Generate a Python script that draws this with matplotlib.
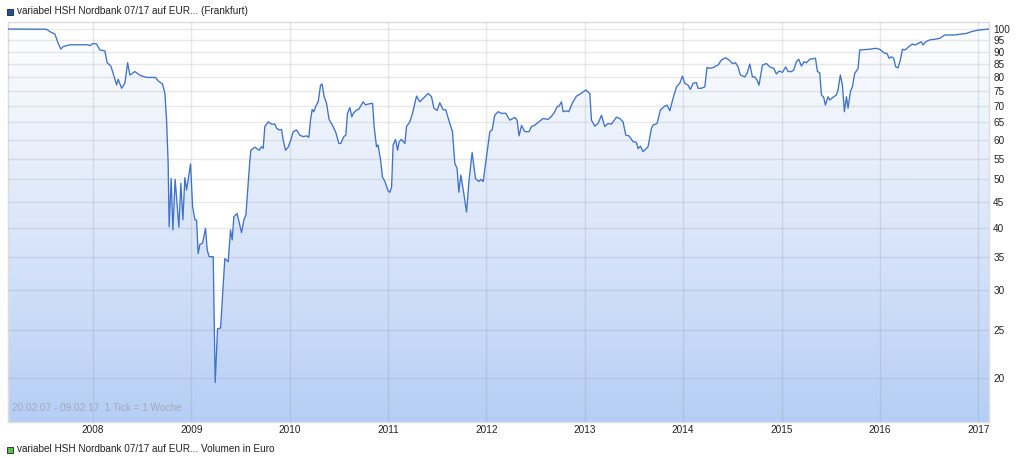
import numpy as np
import matplotlib
matplotlib.use("Agg")
import matplotlib.pyplot as plt
from matplotlib.patches import Rectangle
from matplotlib.colors import LinearSegmentedColormap

plt.rcParams['font.family'] = ['Liberation Sans', 'DejaVu Sans']

# weekly closing prices (decimal year, price in %)
years = [
    2007.137, 2007.529, 2007.563, 2007.614, 2007.647, 2007.675, 2007.698, 2007.766, 2007.952, 2007.970,
    2008.003, 2008.038, 2008.071, 2008.122, 2008.145, 2008.183, 2008.206, 2008.241, 2008.257, 2008.292,
    2008.325, 2008.353, 2008.376, 2008.427, 2008.478, 2008.546, 2008.637, 2008.664, 2008.708, 2008.732,
    2008.749, 2008.765, 2008.775, 2008.796, 2008.813, 2008.836, 2008.874, 2008.894, 2008.915, 2008.935,
    2008.952, 2008.993, 2009.013, 2009.037, 2009.054, 2009.070, 2009.087, 2009.115, 2009.145, 2009.162,
    2009.182, 2009.223, 2009.243, 2009.267, 2009.298, 2009.341, 2009.375, 2009.399, 2009.416, 2009.433,
    2009.466, 2009.511, 2009.535, 2009.555, 2009.578, 2009.596, 2009.606, 2009.646, 2009.690, 2009.714,
    2009.731, 2009.748, 2009.782, 2009.816, 2009.850, 2009.867, 2009.893, 2009.918, 2009.934, 2009.958,
    2009.985, 2010.012, 2010.036, 2010.070, 2010.104, 2010.137, 2010.172, 2010.195, 2010.212, 2010.229,
    2010.246, 2010.266, 2010.290, 2010.314, 2010.330, 2010.351, 2010.375, 2010.401, 2010.442, 2010.470,
    2010.500, 2010.520, 2010.551, 2010.571, 2010.588, 2010.612, 2010.632, 2010.652, 2010.680, 2010.703,
    2010.721, 2010.747, 2010.771, 2010.805, 2010.843, 2010.859, 2010.883, 2010.899, 2010.924, 2010.944,
    2010.967, 2011.001, 2011.018, 2011.036, 2011.052, 2011.076, 2011.097, 2011.113, 2011.137, 2011.171,
    2011.188, 2011.222, 2011.249, 2011.290, 2011.323, 2011.357, 2011.408, 2011.442, 2011.466, 2011.499,
    2011.526, 2011.560, 2011.587, 2011.628, 2011.655, 2011.679, 2011.702, 2011.720, 2011.740, 2011.770,
    2011.798, 2011.824, 2011.855, 2011.889, 2011.923, 2011.943, 2011.967, 2012.001, 2012.035, 2012.058,
    2012.085, 2012.119, 2012.153, 2012.197, 2012.238, 2012.289, 2012.312, 2012.332, 2012.357, 2012.390,
    2012.434, 2012.458, 2012.492, 2012.525, 2012.576, 2012.627, 2012.662, 2012.688, 2012.719, 2012.739,
    2012.763, 2012.780, 2012.814, 2012.837, 2012.875, 2012.916, 2012.949, 2013.010, 2013.051, 2013.068,
    2013.102, 2013.135, 2013.170, 2013.203, 2013.237, 2013.271, 2013.322, 2013.356, 2013.389, 2013.417,
    2013.450, 2013.491, 2013.525, 2013.542, 2013.566, 2013.592, 2013.643, 2013.678, 2013.694, 2013.735,
    2013.769, 2013.813, 2013.836, 2013.864, 2013.897, 2013.932, 2013.966, 2013.993, 2014.016, 2014.050,
    2014.074, 2014.101, 2014.135, 2014.151, 2014.186, 2014.220, 2014.243, 2014.270, 2014.311, 2014.328,
    2014.355, 2014.389, 2014.433, 2014.467, 2014.501, 2014.532, 2014.558, 2014.582, 2014.626, 2014.650,
    2014.677, 2014.704, 2014.728, 2014.751, 2014.771, 2014.806, 2014.846, 2014.880, 2014.921, 2014.948,
    2014.975, 2015.009, 2015.043, 2015.066, 2015.101, 2015.124, 2015.151, 2015.175, 2015.202, 2015.229,
    2015.253, 2015.287, 2015.345, 2015.365, 2015.388, 2015.406, 2015.429, 2015.446, 2015.473, 2015.490,
    2015.523, 2015.558, 2015.574, 2015.598, 2015.619, 2015.639, 2015.660, 2015.676, 2015.700, 2015.720,
    2015.744, 2015.778, 2015.795, 2015.896, 2015.957, 2015.998, 2016.049, 2016.072, 2016.093, 2016.117,
    2016.140, 2016.161, 2016.184, 2016.208, 2016.229, 2016.252, 2016.275, 2016.303, 2016.330, 2016.361,
    2016.387, 2016.422, 2016.438, 2016.466, 2016.506, 2016.557, 2016.608, 2016.659, 2016.760, 2016.811,
    2016.879, 2016.930, 2016.997, 2017.109,
]
prices = [
    100.0, 99.9, 98.8, 97.7, 93.6, 91.2, 92.2, 93.0, 93.0, 92.6,
    93.6, 93.3, 90.8, 90.4, 85.6, 84.3, 81.5, 77.3, 79.3, 76.1,
    77.9, 85.6, 80.9, 82.2, 80.8, 80.0, 80.0, 78.7, 77.6, 74.3,
    65.7, 53.8, 40.2, 50.2, 39.6, 50.0, 40.1, 49.1, 41.5, 50.4,
    47.6, 53.7, 44.2, 41.5, 41.4, 35.5, 37.0, 37.3, 39.9, 36.1,
    35.0, 35.0, 19.6, 25.1, 25.2, 34.7, 34.2, 39.6, 37.8, 42.1,
    42.7, 39.1, 41.5, 42.4, 49.1, 54.7, 57.2, 58.0, 57.2, 58.1,
    57.7, 63.8, 65.2, 64.5, 64.5, 63.3, 62.8, 62.9, 60.0, 57.2,
    58.0, 60.0, 62.3, 62.8, 61.3, 60.9, 61.1, 60.7, 65.7, 69.0,
    68.3, 70.1, 71.5, 77.2, 77.6, 73.2, 71.0, 65.9, 63.8, 62.0,
    59.0, 59.0, 60.9, 61.3, 67.8, 69.6, 66.7, 68.0, 68.8, 69.1,
    70.1, 71.5, 70.5, 70.8, 71.0, 63.8, 58.1, 58.6, 54.7, 50.5,
    49.6, 47.4, 47.1, 48.2, 58.6, 60.1, 57.2, 59.5, 60.1, 59.0,
    63.8, 65.2, 67.8, 73.4, 71.5, 72.6, 74.3, 73.2, 69.4, 68.7,
    71.2, 68.9, 68.9, 64.7, 62.3, 53.8, 52.6, 47.1, 51.0, 46.9,
    43.0, 49.9, 56.6, 50.2, 49.5, 50.0, 49.5, 55.5, 62.3, 62.8,
    67.2, 68.3, 67.8, 67.8, 65.7, 66.5, 65.7, 61.1, 64.1, 62.3,
    62.3, 63.8, 64.2, 65.0, 66.2, 65.9, 66.9, 67.9, 69.9, 70.1,
    71.5, 68.3, 68.6, 68.3, 71.2, 73.4, 74.0, 75.5, 74.3, 65.7,
    63.9, 64.7, 67.2, 63.8, 64.7, 64.5, 66.6, 66.2, 65.2, 61.3,
    61.1, 59.5, 59.3, 57.6, 58.3, 56.8, 58.1, 63.3, 64.2, 64.7,
    68.9, 70.1, 70.4, 68.6, 72.6, 76.6, 77.9, 80.5, 77.9, 77.2,
    75.7, 77.9, 78.1, 76.1, 76.1, 76.6, 83.8, 83.4, 83.8, 84.3,
    84.7, 86.7, 87.6, 86.7, 85.3, 85.6, 84.0, 80.9, 80.2, 81.5,
    85.1, 80.2, 80.2, 79.0, 77.2, 84.7, 85.3, 84.0, 83.4, 81.3,
    82.4, 81.9, 84.0, 82.2, 82.2, 82.8, 86.0, 87.0, 84.3, 86.0,
    85.6, 87.0, 87.4, 82.2, 81.8, 73.8, 73.0, 70.4, 73.2, 72.1,
    73.0, 73.8, 75.5, 80.9, 77.2, 68.3, 73.2, 69.4, 74.9, 76.6,
    81.5, 83.4, 90.8, 91.1, 91.5, 91.1, 89.4, 89.4, 87.4, 88.0,
    87.4, 84.0, 83.6, 86.7, 91.1, 90.8, 91.5, 92.5, 93.3, 92.9,
    93.6, 94.3, 92.9, 94.3, 95.1, 95.4, 95.8, 97.3, 97.3, 97.6,
    98.0, 98.8, 99.5, 100.0,
]

year_ticks = [2008, 2009, 2010, 2011, 2012, 2013, 2014, 2015, 2016, 2017]
price_ticks = [20, 25, 30, 35, 40, 45, 50, 55, 60, 65, 70, 75, 80, 85, 90, 95, 100]

FS = 7.2
W, H = 1024, 458
fig = plt.figure(figsize=(W / 100, H / 100), dpi=100)
ax = fig.add_axes([8 / W, 1 - 422 / H, 981 / W, 400 / H])
ax.set_yscale('log')
ax.set_autoscale_on(False)
ymin, ymax = 16.33, 103.3
ax.set_xlim(years[0], years[-1])
ax.set_ylim(ymin, ymax)

# gradient fill under the line
cmap = LinearSegmentedColormap.from_list('g', ['#b6cef5', '#dce7fa', '#ffffff'])
grad = np.linspace(0, 1, 256).reshape(-1, 1)
im = ax.imshow(grad, extent=[0, 1, 0, 1], transform=ax.transAxes, origin='lower',
               aspect='auto', cmap=cmap, zorder=1, interpolation='bilinear')
poly = ax.fill_between(years, prices, ymin, facecolor='none', edgecolor='none')
im.set_clip_path(poly.get_paths()[0], transform=ax.transData)

ax.plot(years, prices, color='#3f72cc', lw=0.95, zorder=3)

ax.set_xticks(year_ticks)
ax.set_xticklabels([str(y) for y in year_ticks])
ax.set_yticks(price_ticks)
ax.set_yticklabels([str(p) for p in price_ticks])
ax.yaxis.set_minor_locator(plt.NullLocator())
ax.yaxis.tick_right()
ax.tick_params(axis='both', length=0, labelsize=FS, colors='#222222')
ax.tick_params(axis='y', pad=3)
ax.tick_params(axis='x', pad=2.5)
ax.grid(True, color='#777777', alpha=0.16, lw=1.0, zorder=2)
ax.set_axisbelow(False)
for s in ax.spines.values():
    s.set_color('#dddddd')
    s.set_linewidth(1.0)

ax.text(0.004, 0.035, '20.02.07 - 09.02.17  1 Tick = 1 Woche', transform=ax.transAxes,
        fontsize=FS, color='#9fa9ba', va='center', ha='left', zorder=4)

# legends
fig.patches.append(Rectangle((7 / W, 1 - 15 / H), 6 / W, 6 / H, transform=fig.transFigure,
                             facecolor='#1f4ea3', edgecolor='#222222', lw=0.6))
fig.text(17 / W, 1 - 10.5 / H, 'variabel HSH Nordbank 07/17 auf EUR... (Frankfurt)',
         fontsize=FS, color='#222222', va='center', ha='left')
fig.patches.append(Rectangle((7 / W, 1 - 453 / H), 6 / W, 6 / H, transform=fig.transFigure,
                             facecolor='#5cbf4e', edgecolor='#222222', lw=0.6))
fig.text(17 / W, 1 - 449.5 / H, 'variabel HSH Nordbank 07/17 auf EUR... Volumen in Euro',
         fontsize=FS, color='#222222', va='center', ha='left')

fig.savefig('out.png', dpi=100)
